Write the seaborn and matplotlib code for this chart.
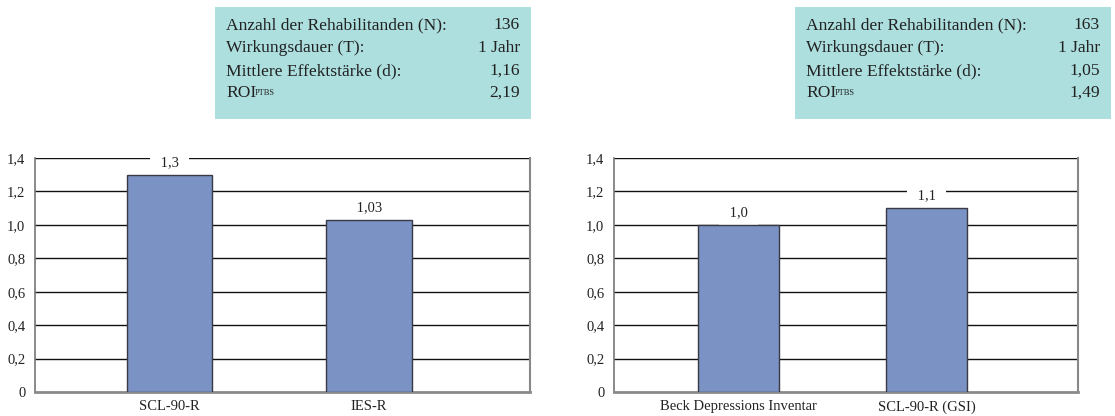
import matplotlib
matplotlib.use("Agg")
import matplotlib.pyplot as plt
import seaborn as sns
import pandas as pd

# Effect sizes per instrument, two rehabilitation groups
left_categories = ["SCL-90-R", "IES-R"]
left_values = [1.3, 1.03]
left_labels = ["1,3", "1,03"]

right_categories = ["Beck Depressions Inventar", "SCL-90-R (GSI)"]
right_values = [1.0, 1.1]
right_labels = ["1,0", "1,1"]

# Summary boxes
info_keys = ["Anzahl der Rehabilitanden (N):", "Wirkungsdauer (T):",
             "Mittlere Effektstärke (d):", "ROI"]
left_info = ["136", "1 Jahr", "1,16", "2,19"]
right_info = ["163", "1 Jahr", "1,05", "1,49"]

y_ticks = [0, 0.2, 0.4, 0.6, 0.8, 1.0, 1.2, 1.4]
y_ticklabels = ["0", "0,2", "0,4", "0,6", "0,8", "1,0", "1,2", "1,4"]

sns.set_theme(style="white")
plt.rcParams["font.family"] = ["Liberation Serif", "DejaVu Serif"]
plt.rcParams["text.color"] = "#222222"

BAR = "#7A92C4"
BOX = "#AEDFDF"

W, H = 1115, 416
fig = plt.figure(figsize=(W / 100, H / 100), dpi=100)


def px_axes(x0, y0, x1, y1):
    return fig.add_axes([x0 / W, 1 - y1 / H, (x1 - x0) / W, (y1 - y0) / H])


def bar_panel(ax, cats, vals, labels, xlim):
    df = pd.DataFrame({"cat": cats, "val": vals})
    sns.barplot(data=df, x="cat", y="val", color=BAR, saturation=1,
                width=0.43, edgecolor="#3a3a44", linewidth=1.0, ax=ax,
                zorder=3)
    ax.set_xlim(*xlim)
    ax.set_ylim(0, 1.4)
    ax.set_yticks(y_ticks)
    ax.set_yticklabels(y_ticklabels, fontsize=10.5)
    ax.set_xlabel("")
    ax.set_ylabel("")
    ax.tick_params(axis="both", length=0, labelsize=10.5, colors="#222222")
    ax.tick_params(axis="y", pad=7)
    ax.tick_params(axis="x", pad=6)
    for yv in y_ticks[1:]:
        ax.axhline(yv, color="#111111", linewidth=1.0, zorder=1)
    ax.spines["top"].set_visible(False)
    ax.spines["left"].set_color("#777777")
    ax.spines["left"].set_linewidth(1.2)
    ax.spines["right"].set_color("#888888")
    ax.spines["right"].set_linewidth(1.5)
    ax.spines["bottom"].set_color("#8a8a8a")
    ax.spines["bottom"].set_linewidth(2.0)
    for i, (v, lab) in enumerate(zip(vals, labels)):
        ax.annotate(" " + lab + " ", xy=(i, v), xytext=(0, 8.8),
                    textcoords="offset points",
                    ha="center", va="center", fontsize=10.5, color="#222222",
                    zorder=2,
                    bbox=dict(boxstyle="square,pad=0.45", fc="white", ec="none"))


def info_box(x0, x1, values):
    ax = px_axes(x0, 7, x1, 119)
    ax.set_facecolor(BOX)
    ax.set_xticks([])
    ax.set_yticks([])
    for s in ax.spines.values():
        s.set_visible(False)
    ax.set_xlim(x0, x1)
    ax.set_ylim(119, 7)
    rows = [25, 48, 71, 93]
    for key, val, y in zip(info_keys, values, rows):
        t = ax.text(x0 + 11, y, key, ha="left", va="center", fontsize=12.6,
                    color="#222222")
        ax.text(x1 - 11, y, val, ha="right", va="center", fontsize=12.6,
                color="#222222")
        if key == "ROI":
            ax.annotate("PTBS", xy=(1, 0.22), xycoords=t, xytext=(-1, 0),
                        textcoords="offset points", ha="left",
                        va="bottom", fontsize=6, color="#222222")


ax_left = px_axes(35, 158, 530, 392)
bar_panel(ax_left, left_categories, left_values, left_labels, (-0.674, 1.807))

ax_right = px_axes(614, 158, 1078, 392)
bar_panel(ax_right, right_categories, right_values, right_labels, (-0.662, 1.806))

info_box(215, 531, left_info)
info_box(795, 1111, right_info)

fig.savefig("out.png", dpi=100, facecolor="white")
